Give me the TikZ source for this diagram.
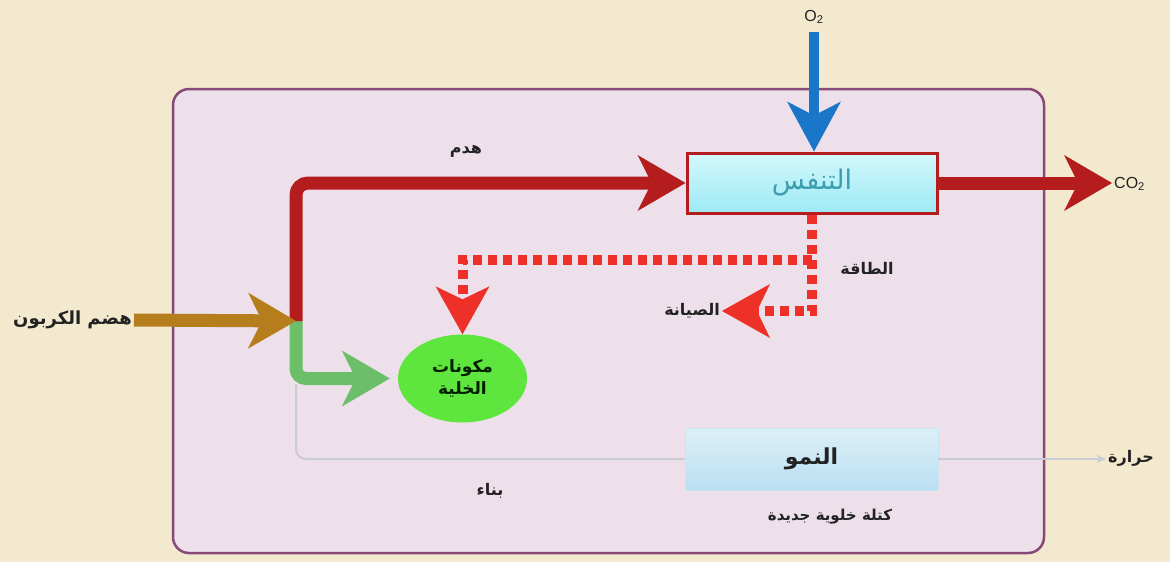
\documentclass[tikz,border=0pt]{standalone}
\usepackage{fontspec}
\setmainfont{Liberation Sans}
\newfontfamily\ar[Script=Arabic]{DejaVu Sans}
\TeXXeTstate=1
\usetikzlibrary{arrows.meta,shapes.geometric}
\definecolor{bgcol}{HTML}{F3E9CF}
\definecolor{cellfill}{HTML}{EDE0EA}
\definecolor{cellborder}{HTML}{874A78}
\definecolor{darkred}{HTML}{B41C1E}
\definecolor{dotred}{HTML}{EE3128}
\definecolor{oxblue}{HTML}{1A76C9}
\definecolor{carbbrown}{HTML}{B57D1C}
\definecolor{greenline}{HTML}{6DBE68}
\definecolor{ellgreen}{HTML}{5FE63E}
\definecolor{greyline}{HTML}{C9CDD2}
\definecolor{cyanA}{HTML}{9EEAF5}
\definecolor{cyanB}{HTML}{D2F8FC}
\definecolor{blueA}{HTML}{BADFF1}
\definecolor{blueB}{HTML}{DDF0F8}
\definecolor{tealtxt}{HTML}{3C9EAE}
\definecolor{txt}{HTML}{222222}
\tikzset{
  bighead/.style={-{Stealth[length=48pt,width=56pt,inset=14pt,line width=0pt]}},
  bigarrow/.style={line width=13pt, bighead},
  dotarrow/.style={draw=dotred, line width=10pt, dash pattern=on 9pt off 6pt,
     -{Stealth[length=48pt,width=54pt,inset=13pt,line width=0pt]}},
  lbl/.style={font=\ar\bfseries\fontsize{16}{19}\selectfont, text=txt, inner sep=2pt},
  latin/.style={font=\fontsize{16}{19}\selectfont, text=txt, inner sep=2pt},
}
\begin{document}
\begin{tikzpicture}[x=1pt,y=-1pt]
\useasboundingbox (0,0) rectangle (1170,562);
\fill[bgcol] (0,0) rectangle (1170,562);
% cell wall
\node[draw=cellborder, line width=2.5pt, fill=cellfill, rounded corners=16pt,
      minimum width=871pt, minimum height=464pt, inner sep=0pt] (wall) at (608.5,321) {};
% boxes
\node[draw=darkred, line width=3pt, top color=cyanB, bottom color=cyanA,
      minimum width=250pt, minimum height=60pt, inner sep=0pt,
      font=\ar\fontsize{27}{30}\selectfont, text=tealtxt] (resp) at (812,183) {\beginR التنفس\endR};
\node[draw=blueA!80!white, line width=0.8pt, top color=blueB, bottom color=blueA,
      minimum width=253pt, minimum height=62pt, inner sep=0pt,
      font=\ar\bfseries\fontsize{22}{26}\selectfont, text=txt] (grow) at (811.5,459) {\beginR النمو\endR};
\node[ellipse, fill=ellgreen, minimum width=129pt, minimum height=88pt, inner sep=0pt,
      align=center, font=\ar\bfseries\fontsize{17}{22}\selectfont, text=black!80!green!60!black] (cell) at (462.5,378.5)
      {\beginR مكونات\endR\\\beginR الخلية\endR};
% outside labels
\node[latin] (o2) at (814,17) {O\textsubscript{2}};
\node[latin, anchor=west] (co2) at (1112,184) {CO\textsubscript{2}};
\node[lbl, font=\ar\bfseries\fontsize{18}{21}\selectfont, anchor=east] (carb) at (134,320) {\beginR هضم الكربون\endR};
\node[lbl, anchor=west] (heat) at (1106,458) {\beginR حرارة\endR};
% inside labels
\node[lbl] (catab) at (466,151) {\beginR هدم\endR};
\node[lbl] (energy) at (867,268) {\beginR الطاقة\endR};
\node[lbl, anchor=east] (maint) at (722,311) {\beginR الصيانة\endR};
\node[lbl] (anab) at (490,491) {\beginR بناء\endR};
\node[lbl, font=\ar\bfseries\fontsize{15}{18}\selectfont] (mass) at (830,517) {\beginR كتلة خلوية جديدة\endR};
% junctions
\coordinate (j) at (296,321);
\coordinate (g) at (296,384);
% grey thin path
\draw[greyline, line width=2pt, rounded corners=10pt] (g) |- (grow.west);
\draw[greyline, line width=2pt, -{Stealth[length=9pt,width=8pt,inset=2pt]}] (grow.east) -- (grow.east -| heat.west);
% green
\draw[greenline, line width=13pt, rounded corners=10pt, bighead, shorten >=8pt] (j) |- (cell.west);
% red main
\draw[darkred, bigarrow, rounded corners=12pt] (j) |- (resp.west);
\draw[darkred, bigarrow] (resp.east) -- (resp.east -| co2.west);
% brown
\draw[carbbrown, bigarrow] (carb.east) -- (j);
% blue
\draw[oxblue, line width=10pt, shorten <=6pt, -{Stealth[length=50pt,width=54pt,inset=14pt,line width=0pt]}]
   (o2.south) -- (o2.south |- resp.north);
% dotted energy
\draw[dotarrow] (resp.south) -- ++(0,45) -| (cell.north);
\draw[dotarrow] (resp.south) |- (maint.east);
\end{tikzpicture}
\end{document}
